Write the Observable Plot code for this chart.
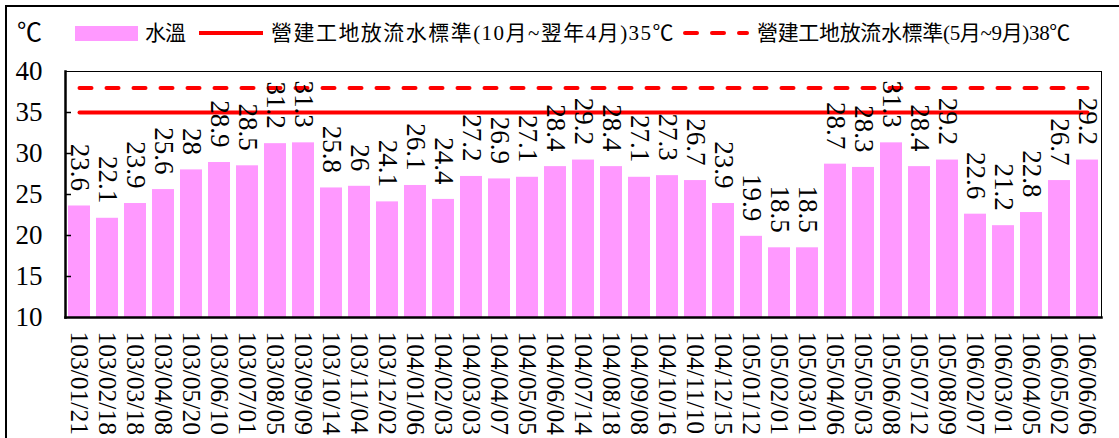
<!DOCTYPE html>
<html>
<head>
<meta charset="utf-8">
<script src="https://cdn.jsdelivr.net/npm/d3@7"></script>
<script src="https://cdn.jsdelivr.net/npm/@observablehq/plot@0.6"></script>
<style>
  html, body { margin: 0; padding: 0; background: #fff; overflow: hidden; width: 1119px; height: 438px; }
  .abs { position: absolute; white-space: nowrap; }
  .txt { font-family: "Liberation Serif", "Times New Roman", "Noto Sans CJK TC", serif; font-size: 21px; line-height: 24px; color: #000; }
  #border { position: absolute; left: 5px; top: 5px; width: 1200px; height: 500px; border: 2px solid #000; box-sizing: border-box; }
  #chart { position: absolute; left: 0; top: 56px; }
  #chart svg, #chart text { font-family: "Liberation Serif", "Times New Roman", serif !important; }
</style>
</head>
<body>
<div id="border"></div>
<div class="abs txt" style="left:17px; top:20px; font-size:25px; line-height:26px;">℃</div>
<div class="abs" style="left:75px; top:26px; width:63px; height:15px; background:#FF99FF;"></div>
<div class="abs txt" id="lg1" style="left:145px; top:21px;"></div>
<div class="abs" style="left:199px; top:31px; width:64px; height:4px; background:#FF0000;"></div>
<div class="abs txt" id="lg2" style="left:271px; top:21px;"></div>
<svg class="abs" style="left:683px; top:27px;" width="66" height="12"><line x1="2" x2="64" y1="6" y2="6" stroke="#FF0000" stroke-width="4" stroke-linecap="round" stroke-dasharray="12,15"/></svg>
<div class="abs txt" id="lg3" style="left:757px; top:21px;"></div>
<div id="chart"></div>
<script>
const seriesName = "水溫";
const limitWinterName = "營建工地放流水標準(10月~翌年4月)35℃";
const limitSummerName = "營建工地放流水標準(5月~9月)38℃";

const dates = [
  "103/01/21","103/02/18","103/03/18","103/04/08","103/05/20","103/06/10","103/07/01","103/08/05","103/09/09",
  "103/10/14","103/11/04","103/12/02","104/01/06","104/02/03","104/03/03","104/04/07","104/05/05","104/06/04",
  "104/07/14","104/08/18","104/09/08","104/10/16","104/11/10","104/12/15","105/01/12","105/02/01","105/03/01",
  "105/04/06","105/05/03","105/06/08","105/07/12","105/08/09","106/02/07","106/03/01","106/04/05","106/05/02","106/06/06"
];
const temps = [
  23.6,22.1,23.9,25.6,28,28.9,28.5,31.2,31.3,
  25.8,26,24.1,26.1,24.4,27.2,26.9,27.1,28.4,
  29.2,28.4,27.1,27.3,26.7,23.9,19.9,18.5,18.5,
  28.7,28.3,31.3,28.4,29.2,22.6,21.2,22.8,26.7,29.2
];
const limitWinter = 35;
const limitSummer = 38;
const yTicks = [10,15,20,25,30,35,40];

function fitText(id, text, target) {
  const el = document.getElementById(id);
  el.textContent = text;
  const w = el.getBoundingClientRect().width;
  const n = Array.from(text).length;
  if (n > 1) el.style.letterSpacing = ((target - w) / n) + "px";
}
fitText("lg1", seriesName, 40);
fitText("lg2", limitWinterName, 404);
fitText("lg3", limitSummerName, 313);

const data = dates.map((d, i) => ({date: d, temp: temps[i]}));

const W = 1119, ML = 65, MR = 18;
const innerW = W - ML - MR;
const serif = "'Liberation Serif', 'Times New Roman', serif";

const chart = Plot.plot({
  width: W,
  height: 382,
  marginLeft: ML,
  marginRight: MR,
  marginTop: 15,
  marginBottom: 121,
  style: {fontFamily: serif, background: "transparent", color: "#000"},
  x: {type: "band", domain: dates, paddingInner: 0.22, paddingOuter: 0.11, label: null},
  y: {domain: [10, 40], label: null},
  marks: [
    Plot.barY(data, {x: "date", y1: 10, y2: "temp", fill: "#FF99FF"}),
    Plot.frame({stroke: "#000", strokeWidth: 1}),
    Plot.frame({anchor: "left", stroke: "#000", strokeWidth: 2.5}),
    Plot.frame({anchor: "bottom", stroke: "#000", strokeWidth: 2.5}),
    Plot.ruleY(yTicks.slice(1, -1), {y: d => d, insetRight: innerW - 6, stroke: "#000", strokeWidth: 1.5}),
    Plot.lineY(dates, {x: d => d, y: () => limitWinter, stroke: "#FF0000", strokeWidth: 4}),
    Plot.lineY(dates, {x: d => d, y: () => limitSummer, stroke: "#FF0000", strokeWidth: 4, strokeDasharray: "12,15", strokeLinecap: "round"}),
    Plot.text(data, {x: "date", y: "temp", text: d => String(d.temp), rotate: 90, textAnchor: "end", dy: -15, fontSize: 27, fontFamily: serif, fill: "#000"}),
    Plot.axisY({ticks: yTicks, tickSize: 0, tickPadding: 23, fontSize: 27, fontFamily: serif, tickFormat: d => String(d)}),
    Plot.axisX({tickSize: 0, tickRotate: 90, tickPadding: 14, fontSize: 25.5, fontFamily: serif})
  ]
});
document.getElementById("chart").appendChild(chart);
</script>
</body>
</html>
